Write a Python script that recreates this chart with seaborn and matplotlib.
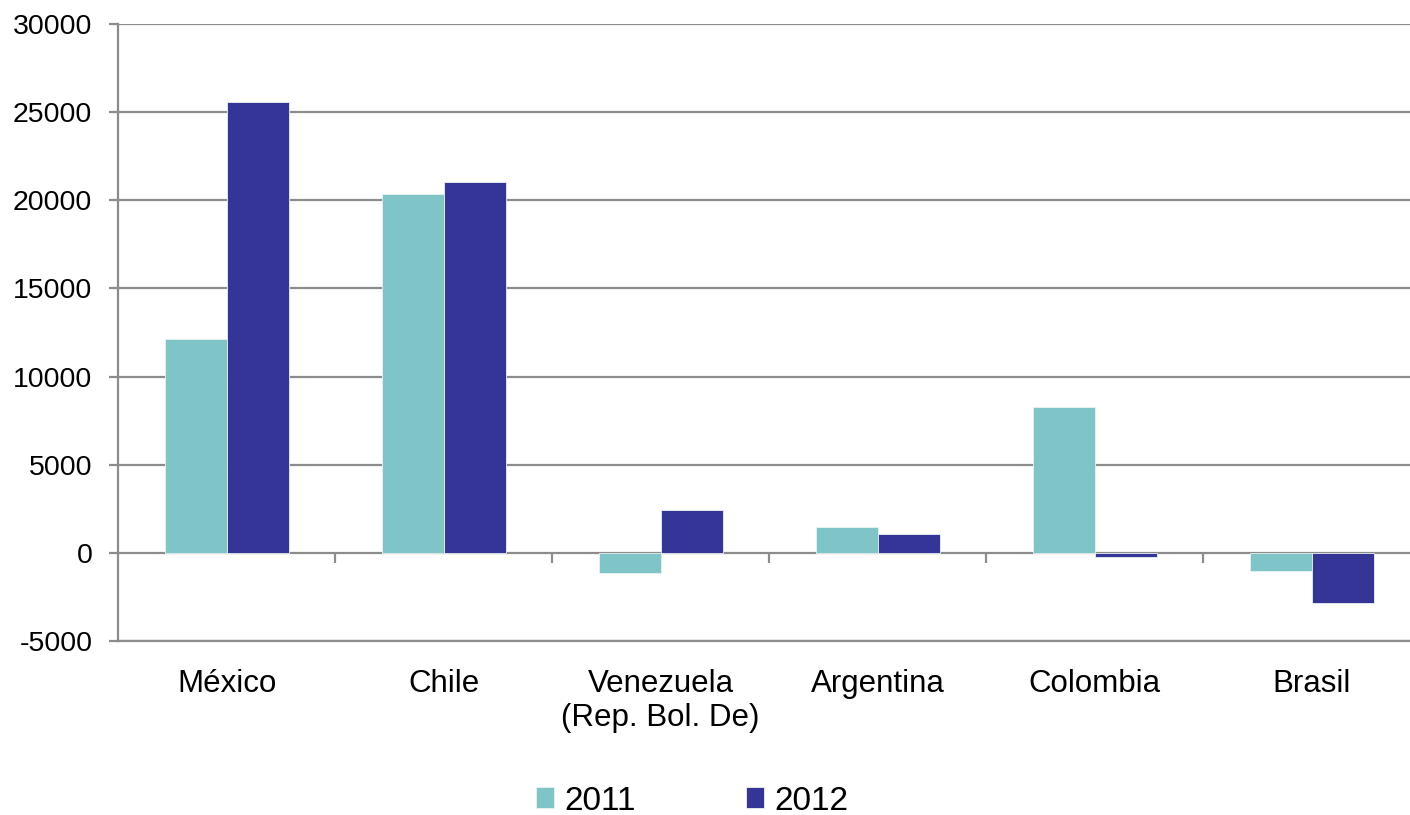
import matplotlib
matplotlib.use("Agg")
import matplotlib.pyplot as plt
import seaborn as sns
import pandas as pd

# Data
countries = ["México", "Chile", "Venezuela\n(Rep. Bol. De)", "Argentina", "Colombia", "Brasil"]
years = ["2011", "2012"]
values_2011 = [12130, 20340, -1170, 1450, 8280, -1040]
values_2012 = [25600, 21060, 2420, 1080, -260, -2830]
y_ticks = [-5000, 0, 5000, 10000, 15000, 20000, 25000, 30000]

colors = {"2011": "#7FC4C7", "2012": "#353598"}
grid_gray = "#8C8C8C"

df = pd.DataFrame({
    "country": countries * 2,
    "year": [years[0]] * len(countries) + [years[1]] * len(countries),
    "value": values_2011 + values_2012,
})

sns.set_style("white")
plt.rcParams["font.family"] = ["Liberation Sans", "DejaVu Sans"]
plt.rcParams["axes.unicode_minus"] = False
plt.rcParams["text.color"] = "black"
plt.rcParams["xtick.labelcolor"] = "black"
plt.rcParams["ytick.labelcolor"] = "black"

fig = plt.figure(figsize=(14.1, 8.15), dpi=100)
ax = fig.add_axes([0.0837, 0.2135, 0.9238, 0.7571])

sns.barplot(data=df, x="country", y="value", hue="year", palette=colors,
            saturation=1, width=0.571, errorbar=None, ax=ax,
            edgecolor="#E8F2F2", linewidth=0.6, zorder=3)

ax.set_ylim(y_ticks[0], y_ticks[-1])
ax.set_yticks(y_ticks)
ax.set_xlim(-0.5, len(countries) - 0.5)
ax.set_xlabel("")
ax.set_ylabel("")

# Horizontal gridlines
ax.yaxis.grid(True, color=grid_gray, linewidth=1.6)
ax.xaxis.grid(False)
ax.set_axisbelow(True)

for side in ["top", "right"]:
    ax.spines[side].set_visible(False)
ax.spines["left"].set_color(grid_gray)
ax.spines["left"].set_linewidth(1.6)
ax.spines["bottom"].set_color(grid_gray)
ax.spines["bottom"].set_linewidth(1.6)

ax.tick_params(axis="y", which="major", length=6.5, width=1.6, color=grid_gray,
               direction="out", labelsize=20.5, pad=12, left=True, labelcolor="black")
ax.tick_params(axis="x", which="major", length=0, labelsize=22.5, pad=20,
               labelcolor="black")

# Category separators hanging below the zero line
sec = ax.secondary_xaxis(0, transform=ax.transData)
sec.set_xticks([i + 0.5 for i in range(len(countries) - 1)])
sec.set_xticklabels([])
sec.spines["bottom"].set_visible(False)
sec.spines["top"].set_visible(False)
sec.tick_params(axis="x", length=7, width=1.6, color=grid_gray, direction="out")

# Legend below the plot
handles, labels = ax.get_legend_handles_labels()
if ax.get_legend() is not None:
    ax.get_legend().remove()
leg = fig.legend(handles, labels, loc="center", bbox_to_anchor=(692 / 1410, 1 - 801 / 815),
                 ncol=2, frameon=False, fontsize=24, handlelength=0.55, handleheight=0.6,
                 handletextpad=0.3, columnspacing=3.3, borderpad=0, borderaxespad=0)
for t in leg.get_texts():
    t.set_color("black")

fig.savefig("out.png", dpi=100)
